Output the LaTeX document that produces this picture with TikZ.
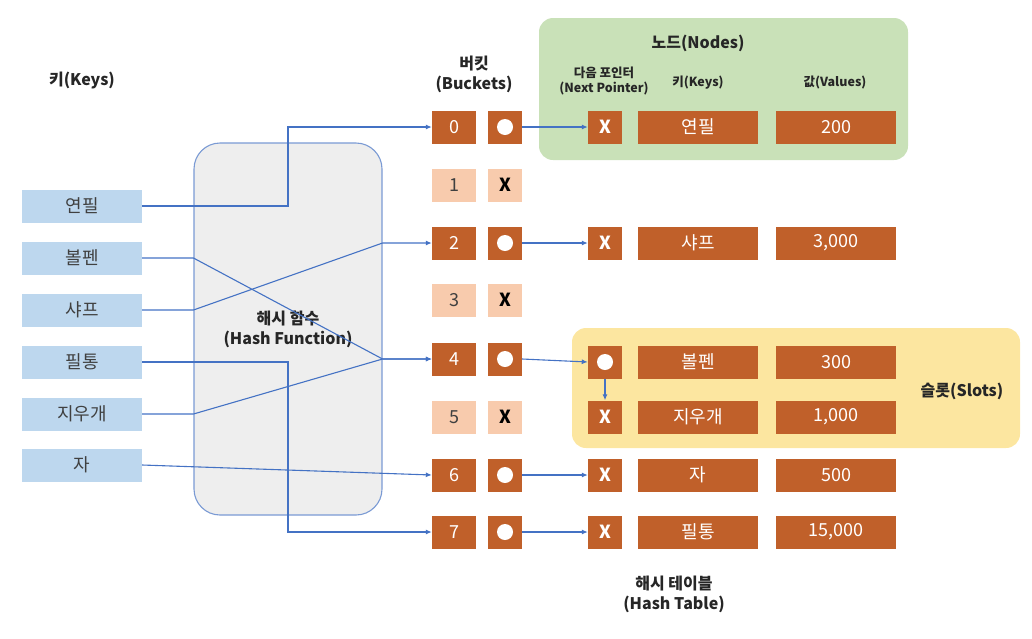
\documentclass[tikz,border=0pt]{standalone}
\usepackage{fontspec}
\setmainfont{Noto Sans CJK KR}
\usetikzlibrary{arrows.meta,calc}
\definecolor{keyblue}{HTML}{BDD7EE}
\definecolor{orD}{HTML}{C0602A}
\definecolor{orL}{HTML}{F8CBAD}
\definecolor{grn}{HTML}{C9E1B8}
\definecolor{ylw}{HTML}{FCE6A0}
\definecolor{hgray}{HTML}{EEEEEE}
\definecolor{lnblue}{HTML}{4472C4}
\definecolor{hbord}{HTML}{7A9AD4}
\definecolor{txt}{HTML}{404040}
\definecolor{hdr}{HTML}{262626}
\tikzset{
  body/.style={font=\fontsize{18}{20}\selectfont},
  hdrtext/.style={font=\bfseries\fontsize{16}{20}\selectfont, text=hdr, align=center},
  smallhdr/.style={font=\bfseries\fontsize{12.5}{15}\selectfont, text=hdr, align=center},
  keybox/.style={body, fill=keyblue, text=txt, minimum width=120pt, minimum height=33pt, inner sep=0pt},
  dbox/.style={body, fill=orD, text=white, minimum height=33pt, inner sep=0pt},
  lbox/.style={body, fill=orL, text=txt, minimum height=33pt, inner sep=0pt},
  idx/.style={minimum width=44pt},
  ptr/.style={minimum width=34pt},
  wide/.style={minimum width=120pt},
  conn/.style={draw=lnblue, line width=1.1pt, -{Latex[length=6pt,width=5pt]}},
  plain/.style={draw=lnblue, line width=1.1pt},
  dot/.style={circle, fill=white, minimum size=16pt, inner sep=0pt},
}
\begin{document}
\begin{tikzpicture}[x=1pt,y=-1pt]
\useasboundingbox (0,0) rectangle (1032,638);
% background groups
\node[fill=grn, rounded corners=14pt, minimum width=369pt, minimum height=142pt, inner sep=0pt] (grp) at (723.5,89) {};
\node[fill=ylw, rounded corners=14pt, minimum width=448pt, minimum height=120pt, inner sep=0pt] (slots) at (796,388) {};
\node[fill=hgray, draw=hbord, line width=1.1pt, rounded corners=26pt, minimum width=188pt, minimum height=372pt, inner sep=0pt, hdrtext] (hash) at (288,329) {해시 함수\\(Hash Function)};

% headers
\node[hdrtext] (hkeys) at (82,80) {키(Keys)};
\node[hdrtext] (hbuck) at (474,74) {버킷\\(Buckets)};
\node[hdrtext] (hnodes) at (698,43) {노드(Nodes)};
\node[smallhdr] (hnext) at (604,81) {다음 포인터\\(Next Pointer)};
\node[smallhdr] (hnkeys) at (698,83) {키(Keys)};
\node[smallhdr] (hvals) at (835,83) {값(Values)};
\node[hdrtext] (hslots) at (962,391) {슬롯(Slots)};
\node[hdrtext] (htable) at (674,594) {해시 테이블\\(Hash Table)};

% keys
\node[keybox] (k1) at (82,206) {연필};
\node[keybox] (k2) at (82,258) {볼펜};
\node[keybox] (k3) at (82,310) {샤프};
\node[keybox] (k4) at (82,362) {필통};
\node[keybox] (k5) at (82,414) {지우개};
\node[keybox] (k6) at (82,465) {자};

% buckets
\node[dbox,idx] (b0) at (454,127) {0};
\node[lbox,idx] (b1) at (454,185) {1};
\node[dbox,idx] (b2) at (454,243) {2};
\node[lbox,idx] (b3) at (454,300) {3};
\node[dbox,idx] (b4) at (454,359) {4};
\node[lbox,idx] (b5) at (454,417) {5};
\node[dbox,idx] (b6) at (454,475) {6};
\node[dbox,idx] (b7) at (454,532) {7};

\node[dbox,ptr] (p0) at (505,127) {};
\node[lbox,ptr,text=black,font=\bfseries\fontsize{18}{20}\selectfont] (p1) at (505,185) {X};
\node[dbox,ptr] (p2) at (505,243) {};
\node[lbox,ptr,text=black,font=\bfseries\fontsize{18}{20}\selectfont] (p3) at (505,300) {X};
\node[dbox,ptr] (p4) at (505,359) {};
\node[lbox,ptr,text=black,font=\bfseries\fontsize{18}{20}\selectfont] (p5) at (505,417) {X};
\node[dbox,ptr] (p6) at (505,475) {};
\node[dbox,ptr] (p7) at (505,532) {};
\foreach \n in {p0,p2,p4,p6,p7} \node[dot] at (\n) {};

% nodes
\tikzset{xb/.style={dbox,ptr,font=\bfseries\fontsize{18}{20}\selectfont}}
\node[xb] (x0) at (605,127) {X};
\node[dbox,wide] (kk0) at (698,127) {연필};
\node[dbox,wide] (v0) at (836,127) {200};

\node[xb] (x2) at (605,243) {X};
\node[dbox,wide] (kk2) at (698,243) {샤프};
\node[dbox,wide] (v2) at (836,243) {3,000};

\node[dbox,ptr] (c4) at (605,362) {};
\node[dot] at (c4) {};
\node[dbox,wide] (kk4) at (698,362) {볼펜};
\node[dbox,wide] (v4) at (836,362) {300};

\node[xb] (x5) at (605,417) {X};
\node[dbox,wide] (kk5) at (698,417) {지우개};
\node[dbox,wide] (v5) at (836,417) {1,000};

\node[xb] (x6) at (605,475) {X};
\node[dbox,wide] (kk6) at (698,475) {자};
\node[dbox,wide] (v6) at (836,475) {500};

\node[xb] (x7) at (605,532) {X};
\node[dbox,wide] (kk7) at (698,532) {필통};
\node[dbox,wide] (v7) at (836,532) {15,000};

% key -> bucket connectors
\draw[conn] (k1.east) -- (k1.east -| hash.center) |- (b0.west);
\draw[conn] (k2.east) -- (k2.east -| hash.west) -- (b4.west -| hash.east) -- (b4.west);
\draw[conn] (k3.east) -- (k3.east -| hash.west) -- (b2.west -| hash.east) -- (b2.west);
\draw[conn] (k4.east) -- (k4.east -| hash.center) |- (b7.west);
\draw[conn] (k5.east) -- (k5.east -| hash.west) -- (b4.west -| hash.east) -- (b4.west);
\draw[conn] (k6.east) -- (b6.west);

% bucket -> node connectors
\draw[conn] (p0.east) -- (x0.west);
\draw[conn] (p2.east) -- (x2.west);
\draw[conn] (p4.east) .. controls ($(p4.east)!0.5!(c4.west)$) .. (c4.west);
\draw[conn] (p6.east) -- (x6.west);
\draw[conn] (p7.east) -- (x7.west);
\draw[conn] (c4.south) -- (x5.north);
\end{tikzpicture}
\end{document}
